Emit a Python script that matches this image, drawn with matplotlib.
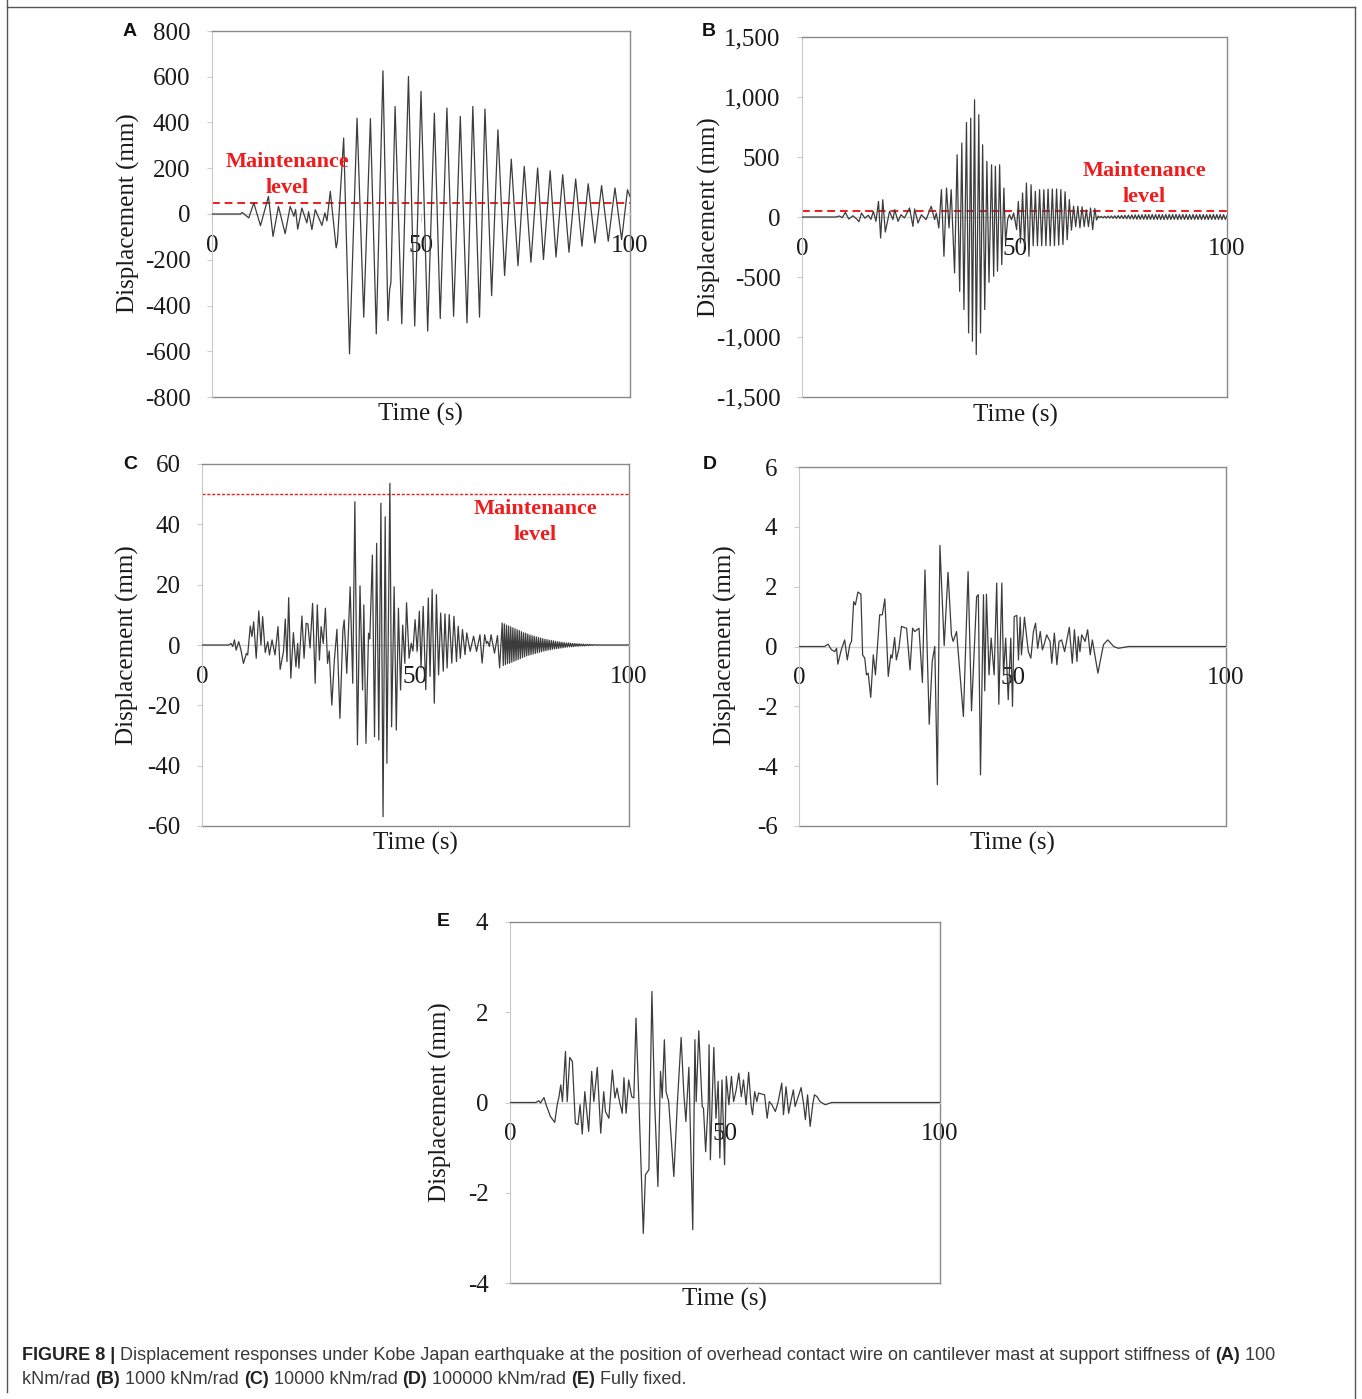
import matplotlib
matplotlib.use('Agg')
import matplotlib.pyplot as plt
from matplotlib.lines import Line2D
from matplotlib.ticker import FuncFormatter

plt.rcParams['axes.unicode_minus'] = False

# (time s, displacement mm) turning points
resp_A = [(0, 0), (6.8, 0), (7.2, 7), (8.8, -17), (10.0, 48), (11.6, -51), (13.5, 77), (14.6, -98),
          (15.9, 33), (17.5, -86), (18.7, 33), (19.6, -10), (20.0, 20), (20.5, -66), (21.5, 26),
          (22.7, -39), (23.1, 10), (23.9, -68), (24.7, 19), (26.3, -50), (27.0, 5), (27.5, -30),
          (28.3, 99), (29.7, -148), (30.0, -120), (31.5, 332), (32.9, -611), (34.7, 419),
          (36.3, -451), (37.9, 417), (39.3, -524), (40.9, 626), (42.1, -466), (42.5, -330),
          (42.8, -300), (43.8, 470), (45.4, -480), (47.0, 601), (48.5, -490), (50.0, 536),
          (51.6, -512), (53.2, 441), (54.6, -457), (56.2, 463), (57.8, -447), (59.4, 427),
          (61.0, -476), (62.4, 470), (64.0, -451), (65.3, 459), (66.9, -357), (68.4, 368),
          (70.0, -269), (71.6, 240), (73.2, -226), (74.7, 208), (76.3, -211), (77.9, 201),
          (79.3, -199), (80.9, 189), (82.3, -188), (83.9, 172), (85.4, -167), (87.0, 153),
          (88.5, -141), (90.0, 132), (91.6, -127), (93.2, 124), (94.8, -119), (96.4, 114),
          (98.0, -112), (99.4, 106), (100, 76)]

resp_B = [(0, 0), (8, 0), (8.8, 8), (9.5, -5), (10.2, 39), (11, -17), (12, 10), (12.8, -15),
          (13.4, -39), (14, 33), (14.8, -10), (15.6, 15), (16.2, -20), (16.8, 47), (17.4, -36),
          (18.0, 130), (18.5, -175), (19.0, 144), (19.6, -125), (20.6, 47), (21.4, -22),
          (21.8, 61), (22.6, -36), (23.3, 19), (24.1, -8), (25.3, 75), (26.1, -78), (26.5, 67),
          (27.3, -50), (28.1, 19), (29.2, -22), (30.4, 89), (31.2, -22), (31.6, 33), (32.2, -92),
          (32.8, 228), (33.4, -327), (34.0, 241), (34.6, -92), (35.1, 228), (35.9, -466),
          (36.5, 519), (37.1, -619), (37.6, 616), (38.1, -771), (38.7, 788), (39.2, -966),
          (39.7, 824), (40.1, -1035), (40.6, 977), (41.0, -1146), (41.6, 852), (42.0, -966),
          (42.5, 602), (43.0, -771), (43.5, 463), (44.0, -544), (44.6, 435), (45.1, -494),
          (45.5, 422), (46.0, -452), (46.5, 435), (47.0, -397), (47.5, 241), (47.9, -216),
          (48.4, -20), (48.8, 20), (49.3, -22), (49.8, 33), (50.5, -105), (50.9, 130),
          (51.4, -216), (51.9, 200), (52.4, -244), (52.8, 283), (53.4, -327), (53.9, 269),
          (54.4, -239), (54.9, 214), (55.4, -239), (55.9, 228), (56.4, -239), (56.9, 228),
          (57.4, -239), (57.9, 233), (58.4, -239), (58.9, 233), (59.4, -239), (59.9, 233),
          (60.4, -235), (60.9, 228), (61.4, -230), (61.9, 210), (62.4, -190), (62.9, 145),
          (63.4, -110), (63.9, 90), (64.4, -80), (64.9, 90), (65.4, -90), (65.9, 85), (66.4, -80),
          (66.9, 60), (67.4, -80), (67.9, 75), (68.4, -105), (68.9, 70), (69.3, -25), (69.7, 8),
          (70.0, -6), (70.4, 5), (70.8, -8), (71.2, 6), (71.6, -9), (72.0, 8), (72.4, -10),
          (72.8, 9), (73.2, -11), (73.6, 10), (74.0, -12), (74.4, 12), (74.8, -13), (75.2, 13),
          (75.6, -14), (76.0, 15), (76.4, -15), (76.8, 16), (77.2, -16), (77.6, 17), (78.0, -17),
          (78.4, 18), (78.8, -18), (79.2, 18), (79.6, -19), (80.0, 19), (80.4, -19), (80.8, 20),
          (81.2, -20), (81.6, 20), (82.0, -20), (82.4, 21), (82.8, -20), (83.2, 21), (83.6, -21),
          (84.0, 21), (84.4, -21), (84.8, 20), (85.2, -21), (85.6, 21), (86.0, -20), (86.4, 21),
          (86.8, -21), (87.2, 20), (87.6, -20), (88.0, 21), (88.4, -21), (88.8, 20), (89.2, -20),
          (89.6, 21), (90.0, -20), (90.4, 20), (90.8, -21), (91.2, 20), (91.6, -20), (92.0, 21),
          (92.4, -20), (92.8, 20), (93.2, -20), (93.6, 21), (94.0, -21), (94.4, 20), (94.8, -20),
          (95.2, 20), (95.6, -21), (96.0, 20), (96.4, -20), (96.8, 21), (97.2, -20), (97.6, 20),
          (98.0, -20), (98.4, 20), (98.8, -21), (99.2, 20), (99.6, -20), (100.0, 10)]

resp_C = [(0, 0), (6.2, 0), (6.8, 0.5), (7.2, -0.5), (7.6, 1.7), (8.0, -1.7), (8.6, 1.1), (9.1, -1.5),
          (9.7, -6.1), (10.4, -2.8), (10.7, -3.3), (11.3, 6.3), (11.7, 2.8), (12.1, 7.7),
          (12.7, -4.4), (13.3, 11.3), (13.8, 0), (14.2, 9.4), (14.8, -2.5), (15.4, 1.1),
          (15.8, -3.3), (16.4, 1.7), (17.1, -3.3), (17.8, 6.1), (18.3, -8.1), (19.1, -2),
          (19.5, 8.6), (19.9, -5.5), (20.3, 15.7), (20.8, -11), (21.4, 4.1), (22.0, -7.2),
          (22.4, 0.5), (22.7, -7.7), (23.4, 9.6), (23.9, -4.4), (24.4, 7.2), (24.8, 7.0),
          (25.3, -1), (25.9, 13.8), (26.5, -12.7), (27.0, 13.3), (27.5, -5), (27.9, 6.1),
          (28.4, 0.5), (28.9, 12.2), (29.4, -6.1), (29.8, -2), (30.4, -19.9), (31.0, -5),
          (31.6, 5.2), (32.3, -24.3), (33.0, 5), (33.3, 8.3), (33.9, -9.4), (34.7, 19.3),
          (35.3, -12.7), (35.8, 47.5), (36.4, -33.1), (37.0, 19.6), (37.6, -14.9), (37.9, 13.3),
          (38.4, -32.6), (39.0, 3.9), (39.3, 2), (39.9, 29.8), (40.4, -30.4), (40.9, 33.7),
          (41.4, -31.5), (41.9, 47), (42.4, -56.9), (42.9, 42.5), (43.3, -39.2), (44.0, 53.6),
          (44.4, -27.1), (45.0, 19.3), (45.5, -28.2), (46.0, 12.2), (46.5, -14.9), (47.0, 6.6),
          (47.5, -6.1), (47.9, 14), (48.5, -4.4), (49.0, 0.6), (49.4, -2), (49.9, 8.4),
          (50.4, -2), (50.9, 11.2), (51.3, -7.6), (51.8, 12.8), (52.4, -14.8), (53.0, 15.6),
          (53.4, -10.4), (53.9, 18.4), (54.4, -19.3), (54.9, 16.7), (55.4, -9.9), (55.9, 10.6),
          (56.5, -8.7), (56.9, 10.3), (57.4, -7.6), (57.9, 10.1), (58.5, -6), (59.0, 9.5),
          (59.6, -5.5), (60.0, 6.2), (60.5, -4.4), (61.0, 5.1), (61.6, -3.2), (62.0, 4.0),
          (62.8, -2.1), (63.6, 2.9), (64.3, -2.1), (65.1, 3.4), (65.6, -6.0), (66.2, 3.4),
          (66.6, 0.5), (66.9, 1.2), (67.3, -0.5), (67.7, 3.4), (68.5, -2.7), (69.2, 3.1),
          (69.7, -7.6), (70.3, 7.3), (70.55, -6.8), (70.8, 7.0), (71.05, -6.5), (71.3, 6.6),
          (71.55, -6.2), (71.8, 6.3), (72.05, -6.0), (72.3, 6.0), (72.55, -5.7), (72.8, 5.7),
          (73.05, -5.4), (73.3, 5.4), (73.55, -5.1), (73.8, 5.1), (74.05, -4.8), (74.3, 4.8),
          (74.55, -4.5), (74.8, 4.4), (75.05, -4.2), (75.3, 4.1), (75.55, -3.9), (75.8, 3.9),
          (76.05, -3.6), (76.3, 3.6), (76.55, -3.4), (76.8, 3.3), (77.05, -3.2), (77.3, 3.1),
          (77.55, -3.0), (77.8, 2.9), (78.05, -2.8), (78.3, 2.7), (78.55, -2.6), (78.8, 2.5),
          (79.05, -2.4), (79.3, 2.3), (79.55, -2.2), (79.8, 2.1), (80.05, -2.0), (80.3, 1.9),
          (80.55, -1.9), (80.8, 1.8), (81.05, -1.7), (81.3, 1.6), (81.55, -1.6), (81.8, 1.5),
          (82.05, -1.4), (82.3, 1.4), (82.55, -1.3), (82.8, 1.2), (83.05, -1.2), (83.3, 1.1),
          (83.55, -1.1), (83.8, 1.0), (84.05, -1.0), (84.3, 0.9), (84.55, -0.9), (84.8, 0.8),
          (85.05, -0.8), (85.3, 0.7), (85.55, -0.7), (85.8, 0.7), (86.05, -0.6), (86.3, 0.6),
          (86.55, -0.6), (86.8, 0.5), (87.05, -0.5), (87.3, 0.5), (87.55, -0.4), (87.8, 0.4),
          (88.05, -0.4), (88.3, 0.4), (88.55, -0.3), (88.8, 0.3), (89.05, -0.3), (89.3, 0.3),
          (89.55, -0.3), (89.8, 0.2), (90.05, -0.2), (90.3, 0.2), (90.55, -0.2), (90.8, 0.2),
          (91.05, -0.1), (91.3, 0.1), (91.55, -0.1), (91.8, 0.1), (92.2, 0), (100, 0)]

resp_D = [(0, 0), (6.0, 0), (6.8, 0.08), (7.6, -0.11), (8.4, -0.17), (8.8, -0.06), (9.1, -0.59),
          (9.9, -0.11), (10.7, 0.22), (11.3, -0.45), (11.9, 0.06), (12.3, 0.17), (12.8, 1.5),
          (13.2, 1.39), (13.8, 1.82), (14.5, 1.75), (14.9, -0.28), (15.4, -0.39), (15.8, -0.95),
          (16.2, -0.89), (16.8, -1.7), (17.4, -0.28), (17.9, -0.95), (18.9, 1.06), (19.5, 1.06),
          (20.1, 1.59), (20.5, 0.33), (20.9, -1.0), (21.5, -0.28), (21.8, -0.39), (22.4, 0.3),
          (22.8, -0.45), (23.4, -0.06), (24.0, 0.67), (25.2, 0.61), (26.0, -0.78), (26.6, 0.61),
          (27.1, 0.5), (28.1, 0.61), (28.9, -1.2), (29.5, 2.56), (30.5, -2.6), (31.2, -0.5),
          (31.8, 0), (32.4, -4.62), (33.0, 3.38), (34.0, 0.03), (34.9, 2.48), (35.7, 0.39),
          (36.1, 0.17), (36.9, 0.5), (38.5, -2.34), (39.6, 2.5), (40.4, -2.15), (41.6, 1.67),
          (42.0, 1.73), (42.5, -4.29), (43.2, 1.73), (43.5, -1.48), (43.9, 1.75), (44.5, -0.95),
          (45.0, 0.28), (45.7, -0.95), (46.3, 2.12), (46.8, -1.93), (47.5, 2.12), (47.9, -0.95),
          (48.4, 0.28), (49.0, -1.78), (49.6, 0.28), (50.0, -2.0), (50.4, 1.0), (51.0, 1.04),
          (51.4, -0.45), (51.8, 0.98), (52.1, -0.28), (52.8, 0.98), (53.7, -0.17), (54.3, -0.39),
          (54.9, 0.5), (55.4, 0.78), (55.9, -0.06), (56.5, 0.5), (57.0, -0.11), (57.5, 0.11),
          (58.0, 0.39), (58.8, 0.17), (59.2, -0.56), (59.8, 0.45), (60.4, -0.61), (60.9, 0.17),
          (61.5, 0.22), (62.2, -0.17), (63.3, 0.64), (64.0, -0.56), (64.5, 0.56), (65.1, -0.5),
          (65.4, 0.33), (65.8, -0.17), (66.2, 0.39), (67.0, 0.17), (67.6, 0.56), (68.2, -0.28),
          (68.7, 0.22), (70.0, -0.89), (71.3, 0.06), (72.3, 0.22), (73.7, 0), (74.8, -0.06),
          (77.2, 0), (100, 0)]

resp_E = [(0, 0), (6.0, 0), (6.7, 0.04), (7.1, -0.01), (7.9, 0.11), (8.4, -0.05), (9.4, -0.31),
          (10.4, -0.44), (11.0, -0.04), (11.4, 0.13), (11.8, 0.39), (12.2, 0.02), (12.9, 1.13),
          (13.3, 0.02), (13.9, 1.0), (14.5, 0.91), (15.2, -0.46), (15.8, -0.49), (16.3, -0.05),
          (16.8, -0.7), (17.4, 0.24), (18.3, -0.64), (19.0, 0.69), (19.5, 0.02), (20.3, 0.78),
          (21.1, -0.68), (21.8, 0.24), (22.2, -0.2), (23.0, -0.35), (23.8, 0.72), (24.4, 0.1),
          (24.9, 0.32), (25.3, 0.1), (26.1, -0.24), (26.5, 0.55), (27.0, -0.24), (27.6, 0.5),
          (28.3, 0.13), (28.8, 0.1), (29.3, 1.87), (30.0, -0.05), (31.0, -2.9), (31.5, -1.6),
          (32.3, -1.49), (33.0, 2.46), (33.6, 0.1), (34.4, -1.86), (35.0, 0.69), (35.4, 0.1),
          (35.9, 1.39), (36.3, 0.24), (36.9, 0.02), (38.1, -1.64), (38.9, -0.05), (39.8, 1.44),
          (40.4, 0.24), (40.9, -0.42), (41.6, 0.78), (42.5, -2.82), (43.0, 1.39), (43.3, 0.02),
          (43.9, 1.59), (44.7, -0.09), (45.0, -0.13), (45.5, -1.09), (46.1, 0.02), (46.3, 1.28),
          (46.6, -1.27), (47.4, 1.22), (47.9, -0.35), (48.4, 0.47), (48.8, -1.23), (49.3, 0.5),
          (49.9, -1.38), (50.3, 0.58), (50.9, -0.05), (51.5, 0.58), (52.0, 0.02), (52.6, 0.28),
          (53.2, 0.65), (53.8, 0.13), (54.3, 0.5), (54.9, -0.05), (55.5, 0.67), (56.1, -0.09),
          (56.4, -0.27), (56.9, 0.24), (57.4, 0.02), (57.8, 0.21), (59.2, 0.17), (59.8, -0.35),
          (60.3, 0.02), (60.9, -0.05), (61.7, -0.2), (62.3, -0.01), (63.2, 0.43), (63.6, -0.27),
          (64.2, 0.35), (64.8, -0.24), (65.4, 0.06), (65.9, 0.28), (66.3, -0.09), (67.7, 0.33),
          (68.3, -0.05), (68.7, -0.38), (69.2, 0.17), (69.8, -0.53), (70.4, -0.05), (70.8, 0.17),
          (71.4, 0.13), (72.1, 0.02), (73.3, -0.05), (74.8, 0), (100, 0)]

panel_letters = ['A', 'B', 'C', 'D', 'E']
y_limits = [800, 1500, 60, 6, 4]
y_steps = [200, 500, 20, 2, 2]
x_ticks = [0, 50, 100]
maint_level = [50, 50, 50, None, None]

W, H = 1362, 1399
fig = plt.figure(figsize=(W / 100, H / 100), dpi=100)
serif = 'Liberation Serif'


def px(x, y):
    return x / W, 1 - y / H


# axes boxes in pixels: left, top, right, bottom
boxes = [(212, 31, 630, 397), (802, 37, 1227, 397), (202, 464, 629, 826),
         (799, 467, 1226, 826), (510, 922, 940, 1283)]
ylabel_pos = [(128, 213), (709, 217), (127, 645), (725, 645), (440, 1102)]
xlabel_pos = [(420, 414), (1015, 415), (415, 843), (1012, 843), (724, 1299)]
letter_pos = [(130, 31), (709, 31), (130, 464), (710, 464), (443, 921)]
maint_pos = [(287, 175), (1144, 184), (535, 522), None, None]
series = [resp_A, resp_B, resp_C, resp_D, resp_E]

for i in range(5):
    l, t, r, b = boxes[i]
    ax = fig.add_axes([l / W, 1 - b / H, (r - l) / W, (b - t) / H])
    ts = [p[0] for p in series[i]]
    vs = [p[1] for p in series[i]]
    ax.plot(ts, vs, color='#3c3c3c', lw=0.9, zorder=3)
    lim = y_limits[i]
    ax.set_xlim(0, 100)
    ax.set_ylim(-lim, lim)
    ax.set_yticks(list(range(-lim, lim + 1, y_steps[i])))
    ax.set_xticks(x_ticks)
    if lim >= 1000:
        ax.yaxis.set_major_formatter(FuncFormatter(lambda v, p: '{:,}'.format(int(v))))

    for s in ['top', 'right']:
        ax.spines[s].set_color('#8a8a8a')
        ax.spines[s].set_linewidth(1.0)
    ax.spines['left'].set_color('#c8c8c8')
    ax.spines['bottom'].set_position(('data', 0))
    ax.spines['bottom'].set_color('#cfcfcf')
    ax.spines['bottom'].set_linewidth(1.0)
    ax.add_line(Line2D([0, 1], [0, 0], transform=ax.transAxes, color='#8a8a8a', lw=1.0, clip_on=False))

    ax.tick_params(axis='y', length=3.5, color='#cccccc', pad=12, labelsize=18, labelcolor='#1a1a1a')
    ax.tick_params(axis='x', length=6, color='#cccccc', pad=9, labelsize=18, labelcolor='#1a1a1a')
    for lab in ax.get_xticklabels() + ax.get_yticklabels():
        lab.set_fontfamily(serif)

    if maint_level[i] is not None:
        if i == 2:
            ax.axhline(maint_level[i], color='#ee1c1c', lw=1.0, ls=(0, (2.2, 1.3)), zorder=2)
        else:
            ax.axhline(maint_level[i], color='#ee1c1c', lw=1.4, ls=(0, (4, 2.5)), zorder=2)
        mx, my = maint_pos[i]
        fig.text(*px(mx, my), 'Maintenance\nlevel', color='#ee1c1c', fontsize=16, fontweight='bold',
                 family=serif, ha='center', va='center', linespacing=1.35)

    fig.text(*px(*ylabel_pos[i]), 'Displacement (mm)', rotation=90, ha='center', va='center',
             fontsize=18, family=serif, color='#1a1a1a')
    fig.text(*px(*xlabel_pos[i]), 'Time (s)', ha='center', va='center', fontsize=18, family=serif,
             color='#1a1a1a')
    fig.text(*px(*letter_pos[i]), panel_letters[i], ha='center', va='center', fontsize=14,
             fontweight='bold', family='Liberation Sans', color='#111111')

# outer frame
for xs, ys in [([7, 7], [0, 1392]), ([7, 1355], [7, 7]), ([1355, 1355], [7, 1399])]:
    fig.add_artist(Line2D([x / W for x in xs], [1 - y / H for y in ys], color='#555555', lw=1.0))

# caption, bold pieces placed inline
renderer = fig.canvas.get_renderer()
caption = [
    (1355, [('FIGURE 8 |', True),
            (' Displacement responses under Kobe Japan earthquake at the position of overhead contact '
             'wire on cantilever mast at support stiffness of ', False), ('(A)', True), (' 100', False)]),
    (1380, [('kNm/rad ', False), ('(B)', True), (' 1000 kNm/rad ', False), ('(C)', True),
            (' 10000 kNm/rad ', False), ('(D)', True), (' 100000 kNm/rad ', False), ('(E)', True),
            (' Fully fixed.', False)]),
]
for ypos, parts in caption:
    x = 22
    for txt, bold in parts:
        tt = fig.text(*px(x, ypos), txt, ha='left', va='center', fontsize=13, family='Liberation Sans',
                      fontweight='bold' if bold else 'normal', color='#222222' if bold else '#3a3a3a')
        x += tt.get_window_extent(renderer).width

fig.savefig('out.png', dpi=100)
